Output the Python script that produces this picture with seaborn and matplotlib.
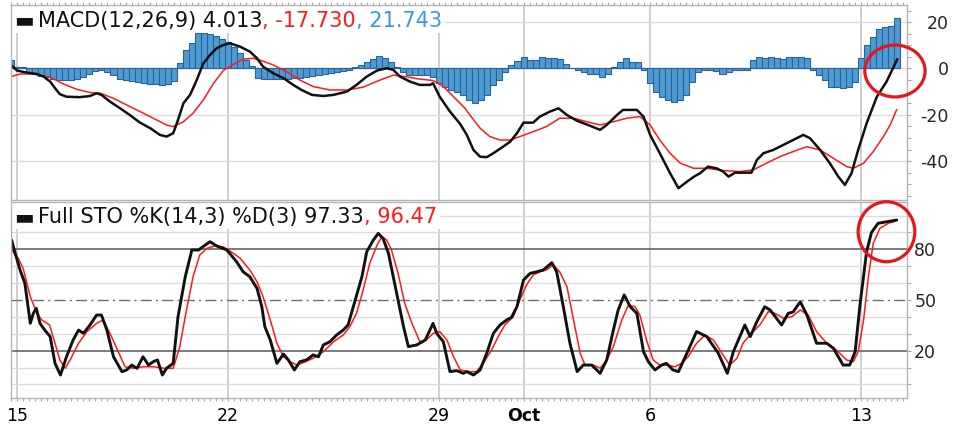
import numpy as np
import matplotlib
matplotlib.use("Agg")
import matplotlib.pyplot as plt
import seaborn as sns
from matplotlib.patches import Ellipse, Rectangle
from matplotlib.transforms import Bbox
from matplotlib.ticker import FixedLocator, MultipleLocator

sns.set_theme(style="white")
plt.rcParams["font.family"] = ["DejaVu Sans"]
plt.rcParams["axes.unicode_minus"] = False

# ---------------- data (x = hourly bar index, 7 bars per trading day) ----------------
DAY_TICKS = [0, 35, 70, 84, 105, 140]
DAY_LABELS = ["15", "22", "29", "Oct", "6", "13"]

HIST_BAR = list(range(-1, 147))
HIST_VAL = [3.7, 0.8, 0.8, -1.5, -2.5, -3.2, -3.8, -4.5, -5.0, -5.0,
            -5.0, -4.6, -3.6, -2.2, -1.0, -0.5, -1.5, -3.0, -4.5, -5.2,
            -5.6, -6.0, -6.3, -6.5, -6.5, -7.0, -6.5, -5.5, 2.4, 8.0,
            11.0, 15.3, 15.5, 14.8, 13.8, 12.7, 11.5, 9.4, 6.7, 3.7,
            1.0, -4.0, -4.5, -4.5, -4.5, -4.5, -4.5, -4.2, -4.0, -3.5,
            -3.2, -3.0, -2.5, -1.8, -1.5, -1.2, -0.8, 0.5, 1.5, 2.9,
            4.0, 5.2, 4.6, 2.7, 0.8, -1.5, -3.0, -3.0, -3.0, -3.0,
            -3.5, -6.4, -7.8, -9.2, -10.2, -11.4, -13.6, -15.0, -13.6, -11.4,
            -7.1, -5.0, -1.4, 1.5, 3.4, 5.1, 3.6, 3.6, 5.1, 4.3,
            4.3, 4.0, 2.0, 0.2, -0.7, -1.4, -2.2, -2.4, -3.5, -2.2,
            0.5, 2.7, 4.3, 2.7, 2.7, -0.7, -6.3, -10.0, -12.2, -13.6,
            -14.3, -13.6, -11.4, -5.7, -1.4, -0.7, -0.7, -1.0, -2.2, -1.5,
            -0.7, -0.7, -0.7, 3.6, 5.1, 4.3, 5.1, 4.3, 4.0, 5.1,
            5.1, 5.1, 4.3, -0.7, -2.9, -5.0, -7.8, -8.0, -8.3, -8.0,
            -5.7, 4.3, 10.1, 13.5, 16.9, 17.8, 18.3, 21.743]

MACD_X = [-1.0, 0.0, 1.6, 3.3, 4.4, 5.5, 6.3, 7.1, 8.2, 10.4, 12.1, 13.2, 14.0, 15.4,
          17.1, 18.7, 20.4, 22.1, 23.7, 24.8, 25.9, 26.7, 27.6, 28.7, 29.8, 30.9, 32.0,
          33.1, 34.2, 35.3, 37.0, 38.6, 39.8, 40.8, 42.5, 44.2, 45.8, 47.2, 48.9, 50.8,
          52.5, 54.7, 56.3, 58.0, 59.7, 61.3, 62.4, 63.5, 65.2, 66.8, 68.5, 69.0, 70.1,
          71.8, 73.5, 74.6, 75.7, 76.8, 77.9, 79.0, 80.6, 81.8, 82.9, 84.0, 85.6, 86.7,
          88.4, 89.8, 91.2, 92.8, 94.7, 96.7, 97.8, 99.5, 100.5, 102.8, 103.9, 105.0,
          106.6, 108.3, 109.7, 111.1, 112.4, 113.3, 114.6, 116.0, 117.1, 118.0, 119.1,
          120.4, 121.8, 122.7, 123.8, 125.4, 127.1, 128.7, 130.4, 131.5, 133.2, 134.8,
          136.2, 137.3, 138.4, 139.5, 140.9, 142.6, 144.2, 146.0]
MACD_Y = [1.5, -0.9, -1.8, -2.4, -3.5, -5.7, -8.5, -11.1, -12.2, -12.4, -11.9, -10.7, -11.4, -14.3,
          -17.2, -20.1, -23.4, -25.8, -28.7, -29.4, -28.0, -22.2, -15.0, -11.4, -5.0, 2.2, 5.8,
          8.7, 10.1, 10.9, 9.4, 7.3, 4.4, 0.8, -2.1, -4.2, -7.1, -9.3, -11.4, -11.9,
          -11.4, -10.0, -7.1, -3.5, -0.9, 0.1, -0.6, -3.5, -5.7, -7.1, -7.1, -6.4, -12.2,
          -18.6, -24.0, -28.7, -35.2, -38.1, -38.3, -36.6, -33.8, -31.6, -28.0, -23.4, -23.4, -20.8,
          -18.6, -17.2, -20.1, -22.5, -24.4, -26.5, -24.4, -20.1, -17.9, -17.9, -20.8, -28.7,
          -36.6, -45.2, -51.7, -48.9, -46.5, -45.2, -42.4, -43.1, -44.5, -46.7, -45.0,
          -45.0, -45.0, -39.5, -36.6, -35.2, -33.0, -30.9, -28.7, -30.1, -35.2, -40.9,
          -46.7, -50.3, -45.2, -35.2, -23.7, -12.2, -5.7, 4.013]

SIG_X = [-1.0, 0.5, 2.7, 5.5, 7.7, 9.9, 12.1, 13.8, 16.0, 18.2, 20.4, 22.6, 24.8, 25.9,
         27.6, 29.2, 30.9, 32.6, 34.2, 35.9, 37.5, 39.1, 40.3, 42.5, 44.7, 46.9, 49.1,
         51.9, 54.7, 57.4, 60.2, 62.4, 64.6, 66.8, 69.0, 70.7, 72.4, 74.3, 75.1, 76.8,
         78.4, 80.1, 81.8, 83.4, 85.6, 87.8, 90.0, 92.3, 94.5, 96.7, 98.9, 101.1, 103.3,
         105.0, 106.6, 108.3, 110.0, 112.2, 114.4, 117.1, 119.9, 122.1, 124.3, 126.5,
         128.7, 131.0, 133.2, 135.4, 137.6, 138.7, 140.4, 142.0, 143.7, 144.8, 145.9]
SIG_Y = [-3.5, -2.4, -2.4, -3.8, -6.7, -9.0, -10.4, -10.7, -12.9, -15.8, -18.6, -21.5, -24.4, -25.1,
         -23.0, -19.3, -13.6, -6.4, -0.9, 1.8, 4.0, 4.4, 3.6, 1.5, -1.4, -5.0, -7.8,
         -9.3, -9.3, -8.1, -5.0, -2.9, -3.6, -4.6, -5.2, -7.8, -12.2, -17.2, -20.1, -25.8,
         -29.4, -30.9, -30.9, -29.4, -27.3, -25.1, -21.5, -21.5, -23.0, -24.4, -23.0, -21.5, -20.8,
         -24.4, -30.9, -36.6, -40.9, -43.1, -43.1, -44.1, -44.5, -43.8, -40.9, -38.1,
         -35.9, -33.8, -35.2, -38.8, -42.4, -43.1, -40.9, -35.9, -29.4, -24.4, -17.73]

K_X = [-0.9, -0.3, 0.5, 1.3, 2.2, 2.7, 3.2, 3.8, 4.6, 5.5, 6.3, 7.2, 8.2, 9.3, 10.2, 11.0,
       12.1, 13.2, 14.0, 14.9, 16.0, 17.4, 18.2, 19.0, 19.9, 20.9, 21.8, 22.6, 23.3, 24.1,
       24.8, 25.9, 26.7, 27.9, 29.0, 30.1, 31.2, 32.0, 33.1, 34.8, 36.4, 37.5, 38.6, 39.8,
       40.6, 41.1, 42.0, 43.1, 44.2, 45.0, 46.0, 46.9, 48.0, 49.1, 50.0, 50.8, 51.9, 53.0,
       54.1, 54.9, 56.1, 57.2, 58.0, 59.1, 59.9, 60.7, 61.6, 62.4, 63.2, 64.1, 64.9, 66.3,
       67.7, 69.0, 69.6, 70.7, 71.8, 72.9, 74.0, 74.6, 75.7, 76.8, 77.9, 79.0, 80.1, 81.2,
       82.0, 82.9, 84.0, 85.1, 86.2, 87.3, 88.7, 89.5, 90.6, 91.7, 92.9, 93.9, 95.3, 96.7,
       97.8, 98.9, 99.7, 100.7, 101.7, 102.8, 103.9, 104.7, 105.8, 106.9, 107.7, 108.8,
       109.7, 111.1, 112.7, 114.4, 116.3, 117.8, 118.8, 120.7, 121.6, 122.7, 124.0, 124.9,
       126.8, 127.9, 128.7, 129.9, 131.0, 132.6, 134.3, 135.4, 137.0, 138.1, 139.0, 139.8,
       140.9, 141.7, 142.8, 144.2, 145.9]
K_Y = [85.5, 77.6, 67.8, 59.9, 36.2, 42.1, 45.1, 36.2, 32.2, 28.3, 12.5, 5.6, 16.4, 26.3, 32.2, 30.3,
       35.2, 41.1, 41.1, 32.2, 16.4, 7.6, 8.6, 11.5, 9.6, 16.4, 11.5, 13.5, 14.5, 5.6,
       9.6, 12.5, 40.1, 63.8, 79.6, 79.6, 82.5, 84.5, 82.0, 79.6, 72.7, 66.7, 63.8, 56.9,
       46.0, 34.2, 26.3, 12.5, 18.0, 14.5, 8.6, 13.5, 14.5, 17.5, 16.4, 23.4, 25.3, 29.3,
       32.2, 35.2, 50.0, 63.8, 78.6, 85.5, 89.4, 86.5, 77.6, 63.8, 50.0, 34.2, 22.4, 23.4,
       26.3, 36.2, 30.3, 25.3, 7.6, 8.2, 6.6, 7.6, 5.6, 8.6, 18.5, 30.3, 35.2, 38.2,
       39.7, 46.0, 61.8, 65.8, 66.7, 67.8, 72.1, 66.7, 46.0, 24.4, 7.6, 11.5, 11.5, 6.6,
       14.5, 32.2, 44.1, 53.0, 46.0, 42.1, 19.4, 13.5, 8.6, 11.5, 12.5, 8.6,
       7.6, 18.5, 31.3, 28.3, 18.5, 6.6, 19.4, 35.2, 28.3, 37.2, 46.0, 44.1,
       35.2, 42.1, 42.9, 49.0, 41.1, 24.4, 24.4, 21.4, 11.5, 11.5, 19.4, 47.0,
       78.6, 89.9, 95.4, 96.3, 97.33]

D_X = [-0.9, 0.2, 1.0, 2.2, 3.3, 4.1, 5.4, 6.3, 7.1, 8.0, 8.8, 10.2, 11.6, 13.2, 14.3, 15.4,
       16.8, 17.9, 19.3, 20.9, 22.6, 24.3, 25.9, 27.0, 28.1, 29.2, 30.3, 31.5, 32.8, 34.2,
       35.9, 37.0, 38.6, 39.8, 40.8, 42.0, 43.1, 44.2, 45.3, 46.4, 47.5, 49.1, 50.8, 52.5,
       54.1, 55.2, 56.3, 57.4, 58.5, 59.7, 60.5, 61.3, 62.1, 63.2, 64.3, 65.5, 66.8, 67.9,
       69.0, 70.1, 71.3, 72.4, 73.5, 75.1, 76.2, 77.3, 78.7, 79.8, 80.9, 82.3, 83.4, 84.5,
       85.6, 86.7, 87.8, 88.9, 90.0, 91.2, 92.3, 93.4, 94.2, 95.6, 96.7, 97.8, 98.9, 100.3,
       101.4, 102.5, 103.3, 104.4, 105.5, 106.6, 107.7, 109.1, 110.2, 111.3, 112.7, 114.1,
       115.5, 116.9, 118.2, 119.4, 120.4, 121.8, 123.2, 124.6, 125.7, 127.1, 128.5, 129.9,
       131.2, 132.6, 134.3, 135.9, 137.6, 138.7, 139.5, 140.4, 141.2, 142.0, 143.1, 144.5,
       145.6]
D_Y = [79.6, 74.7, 68.8, 52.0, 42.1, 38.2, 35.2, 24.4, 14.5, 9.6, 14.5, 24.4, 31.3, 36.2, 38.2, 30.3,
       19.4, 10.5, 9.6, 10.5, 10.5, 9.6, 9.6, 22.4, 44.1, 63.8, 76.6, 80.6, 82.0, 81.5,
       77.6, 74.7, 67.8, 60.8, 52.0, 38.2, 24.4, 16.4, 13.5, 11.5, 12.9, 15.5, 19.4, 25.3,
       29.3, 34.2, 42.1, 55.9, 71.7, 82.5, 87.5, 85.5, 79.6, 65.8, 48.0, 36.2, 25.3, 26.3,
       30.3, 31.3, 26.3, 16.4, 8.6, 7.6, 7.6, 12.5, 20.4, 28.3, 35.2, 40.1, 50.0, 58.9,
       64.8, 66.7, 67.8, 70.7, 66.7, 57.9, 38.2, 18.5, 11.5, 11.5, 9.6, 14.5, 22.4, 38.2,
       47.0, 46.0, 41.1, 26.3, 14.5, 11.5, 11.5, 10.5, 12.5, 16.4, 24.4, 29.3,
       26.3, 18.5, 11.5, 15.5, 24.4, 30.3, 35.2, 43.1, 42.1, 39.2, 40.1, 44.1,
       41.1, 31.3, 24.4, 20.4, 14.5, 13.5, 19.4, 38.2, 63.8, 83.5, 92.4, 95.4,
       96.47]

MACD_LAST, SIG_LAST, HIST_LAST = 4.013, -17.730, 21.743
K_LAST, D_LAST = 97.33, 96.47
MACD_TICKS = [20, 0, -20, -40]
STO_TICKS = [80, 50, 20]

# annotation circles (data coords: centre x, centre y, width, height)
MACD_CIRCLE = (145.6, -1.1, 10.0, 22.4)
STO_CIRCLE = (144.2, 90.4, 9.4, 35.5)

# ---------------- styling ----------------
BLACK = "#111111"
RED = "#FF1A1A"
BLUE_TXT = "#3A9AD6"
BAR_FILL = "#4E9BD1"
BAR_EDGE = "#2A62A0"
GRID = "#DCDCDC"
VGRID = "#CFCFCF"
SPINE = "#B4B4B4"
FS_LEG = 15
FS_TICK = 12.5

W, H = 963, 425
fig = plt.figure(figsize=(W / 100, H / 100), dpi=100)
fig.patch.set_facecolor("white")
L, R = 11, 907
ax1 = fig.add_axes([L / W, (H - 200) / H, (R - L) / W, 195 / H])
ax2 = fig.add_axes([L / W, (H - 398) / H, (R - L) / W, 196 / H])

XLIM = (-1.0, 147.6)

for ax in (ax1, ax2):
    ax.set_facecolor("white")
    for s in ax.spines.values():
        s.set_color(SPINE)
        s.set_linewidth(1.0)
        s.set_zorder(11)
    ax.set_axisbelow(True)

# ---------------- MACD panel ----------------
sns.barplot(x=HIST_BAR, y=HIST_VAL, native_scale=True, ax=ax1, color=BAR_FILL,
            saturation=1, edgecolor=BAR_EDGE, linewidth=0.8, width=1.0,
            errorbar=None, zorder=2)
sns.lineplot(x=SIG_X, y=SIG_Y, ax=ax1, color=RED, lw=1.1, estimator=None, zorder=3)
sns.lineplot(x=MACD_X, y=MACD_Y, ax=ax1, color=BLACK, lw=1.8, estimator=None, zorder=4)
ax1.set_ylim(-56.8, 27.4)
ax1.set_xlim(*XLIM)

# ---------------- STO panel ----------------
for v, ls, lw, col in zip(STO_TICKS, ["-", (0, (8, 3, 1.5, 3)), "-"], [1.2, 1.0, 1.2],
                          ["#666666", "#6E6E6E", "#666666"]):
    ax2.axhline(v, color=col, lw=lw, ls=ls, zorder=1.5)
sns.lineplot(x=D_X, y=D_Y, ax=ax2, color=RED, lw=1.1, estimator=None, zorder=3)
sns.lineplot(x=K_X, y=K_Y, ax=ax2, color=BLACK, lw=2.1, estimator=None, zorder=4)
ax2.set_ylim(-8.0, 108.0)
ax2.set_xlim(*XLIM)

# ---------------- axes / ticks ----------------
for ax in (ax1, ax2):
    ax.set_xlabel("")
    ax.set_ylabel("")
    ax.xaxis.set_major_locator(FixedLocator(DAY_TICKS))
    ax.xaxis.set_minor_locator(MultipleLocator(1))
    ax.grid(axis="x", which="major", color=VGRID, lw=1.4)
    ax.yaxis.tick_right()

ax1.set_xticks(DAY_TICKS)
ax1.set_xticklabels([])
ax1.tick_params(axis="x", which="both", bottom=False, top=True, labelbottom=False,
                direction="out", length=2.5, color="#A8A8A8", width=0.8)

ax2.set_xticks(DAY_TICKS)
ax2.set_xticklabels(DAY_LABELS, fontsize=FS_TICK, color="black")
ax2.get_xticklabels()[DAY_LABELS.index("Oct")].set_fontweight("bold")
ax2.tick_params(axis="x", which="both", bottom=True, top=False, direction="out",
                length=2.5, color="#A8A8A8", width=0.8, pad=3.8)

ax1.yaxis.set_major_locator(FixedLocator(MACD_TICKS))
ax1.yaxis.set_minor_locator(MultipleLocator(5))
ax1.set_yticks(MACD_TICKS)
ax1.set_yticklabels([str(v) for v in MACD_TICKS], fontsize=FS_TICK)
ax1.tick_params(axis="y", which="both", right=True, left=False, direction="out",
                length=3, color="#A8A8A8", width=0.8, pad=27)
for lab in ax1.get_yticklabels():
    lab.set_horizontalalignment("right")
ax1.grid(axis="y", which="major", color=GRID, lw=1.0)
ax1.axhline(0, color=GRID, lw=1.0, zorder=0.5)

ax2.yaxis.set_major_locator(FixedLocator(STO_TICKS))
ax2.yaxis.set_minor_locator(MultipleLocator(10))
ax2.set_yticks(STO_TICKS)
ax2.set_yticklabels([str(v) for v in STO_TICKS], fontsize=FS_TICK)
ax2.tick_params(axis="y", which="both", right=True, left=False, direction="out",
                length=3, color="#A8A8A8", width=0.8, pad=2.2)
ax2.grid(axis="y", which="minor", color=GRID, lw=1.0)


# ---------------- legends (multi-coloured text) ----------------
def rainbow(ax, y, parts):
    texts = [ax.text(0.0035, y, "\u25ac", transform=ax.transAxes, fontsize=FS_LEG,
                     color=BLACK, ha="left", va="baseline", zorder=10)]
    t = ax.text(0.030, y, parts[0][0], transform=ax.transAxes, fontsize=FS_LEG,
                color=parts[0][1], ha="left", va="baseline", zorder=10)
    texts.append(t)
    for s, c in parts[1:]:
        t = ax.annotate(s, xy=(1, 0), xycoords=t, fontsize=FS_LEG, color=c,
                        ha="left", va="bottom", zorder=10, annotation_clip=False)
        texts.append(t)
    return texts


leg1 = rainbow(ax1, 0.889, [(f"MACD(12,26,9) {MACD_LAST:.3f}", BLACK),
                            (f", {SIG_LAST:.3f}", RED),
                            (f", {HIST_LAST:.3f}", BLUE_TXT)])
leg2 = rainbow(ax2, 0.891, [(f"Full STO %K(14,3) %D(3) {K_LAST:.2f}", BLACK),
                            (f", {D_LAST:.2f}", RED)])

# white panel behind each legend line (hides the grid like the original)
fig.canvas.draw()
renderer = fig.canvas.get_renderer()
for ax, texts in ((ax1, leg1), (ax2, leg2)):
    u = Bbox.union([t.get_window_extent(renderer) for t in texts])
    inv = ax.transAxes.inverted()
    (_, y0), (x1, _) = inv.transform([[u.x0, u.y0 - 2], [u.x1 + 3, u.y1]])
    ax.add_patch(Rectangle((0, y0), x1, 1 - y0, transform=ax.transAxes,
                           fc="white", ec="none", zorder=2.2))

# ---------------- red highlight circles ----------------
for ax, (cx, cy, w, h) in ((ax1, MACD_CIRCLE), (ax2, STO_CIRCLE)):
    ax.add_patch(Ellipse((cx, cy), w, h, fill=False, ec="#E8141B", lw=2.3,
                         clip_on=False, zorder=12))

fig.savefig("out.png", dpi=100, facecolor="white")
